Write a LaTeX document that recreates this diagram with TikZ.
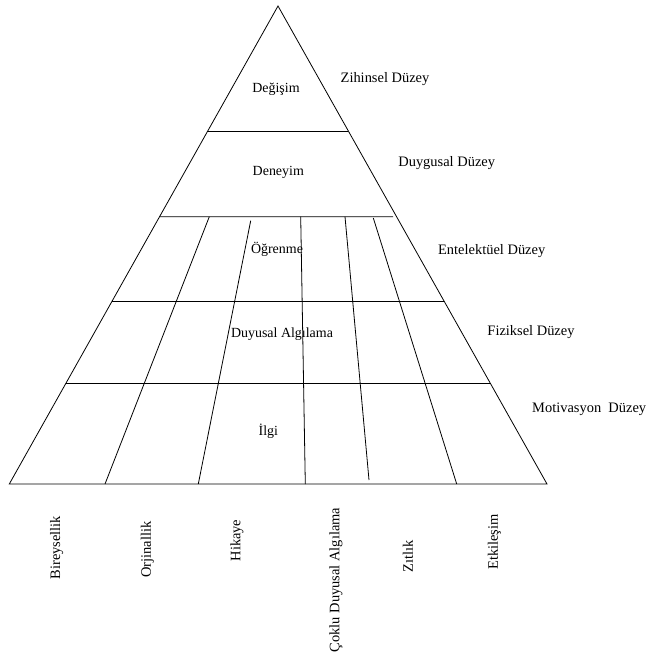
\documentclass[tikz,border=0pt]{standalone}
\usepackage{fontspec}
\setmainfont{Liberation Serif}
\usetikzlibrary{calc}
\begin{document}
\begin{tikzpicture}[x=1bp,y=-1bp,
  edge/.style={line width=0.8bp,black},
  lbl/.style={inner sep=0pt,font=\fontsize{14}{16}\selectfont},
  side/.style={inner sep=0pt,font=\fontsize{14.5}{17}\selectfont},
  vlbl/.style={inner sep=0pt,rotate=90,font=\fontsize{14.5}{17}\selectfont}]
\useasboundingbox (0,0) rectangle (646,654);
% outline of the pyramid
\coordinate (apex) at (278,6);
\coordinate (bl) at (9.3,484);
\coordinate (br) at (547,484);
\draw[edge] (apex) -- (bl) -- (br) -- cycle;
% level boundaries
\coordinate (l1a) at ($(apex)!0.2615!(bl)$);
\coordinate (l1b) at ($(apex)!0.2615!(br)$);
\coordinate (l2a) at ($(apex)!0.4408!(bl)$);
\coordinate (l2b) at (393,216.7);
\coordinate (l3a) at ($(apex)!0.6186!(bl)$);
\coordinate (l3b) at ($(apex)!0.6186!(br)$);
\coordinate (l4a) at ($(apex)!0.7893!(bl)$);
\coordinate (l4b) at ($(apex)!0.7893!(br)$);
\draw[edge] (l1a) -- (l1b);
\draw[edge] (l2a) -- (l2b);
\draw[edge] (l3a) -- (l3b);
\draw[edge] (l4a) -- (l4b);
% column dividers of the lower three levels
\coordinate (d1t) at (209.3,216.7); \coordinate (d1b) at (105,484);
\coordinate (d2t) at (250.7,220.7); \coordinate (d2b) at (198.3,484);
\coordinate (d3t) at (300.7,216.7); \coordinate (d3b) at (305.3,484);
\coordinate (d4t) at (345,216.7);   \coordinate (d4b) at (369,480);
\coordinate (d5t) at (373.3,218);   \coordinate (d5b) at (456.7,484);
\foreach \i in {1,...,5} \draw[edge] (d\i t) -- (d\i b);
% level contents
\node[lbl] (degisim) at (276,89) {Değişim};
\node[lbl] (deneyim) at (278.3,172.7) {Deneyim};
\node[lbl] (ogrenme) at (277,249.3) {Öğrenme};
\node[lbl] (duyusal) at (282,334.5) {Duyusal Algılama};
\node[lbl] (ilgi) at (268.3,431.7) {İlgi};
% level names
\node[side] (zihinsel) at (385,79.3) {Zihinsel Düzey};
\node[side] (duygusal) at (446.7,163.3) {Duygusal Düzey};
\node[side] (entelektuel) at (491.7,251) {Entelektüel Düzey};
\node[side] (fiziksel) at (531,332.3) {Fiziksel Düzey};
\node[side] (motivasyon) at (589.2,409.3) {Motivasyon\ \ Düzey};
% column names
\node[vlbl] (bireysellik) at (56.7,547.5) {Bireysellik};
\node[vlbl] (orjinallik) at (147.5,549.5) {Orjinallik};
\node[vlbl] (hikaye) at (237,540.5) {Hikaye};
\node[vlbl] (coklu) at (336,580) {Çoklu Duyusal Algılama};
\node[vlbl] (zitlik) at (408,556) {Zıtlık};
\node[vlbl] (etkilesim) at (494.5,542) {Etkileşim};
\end{tikzpicture}
\end{document}
